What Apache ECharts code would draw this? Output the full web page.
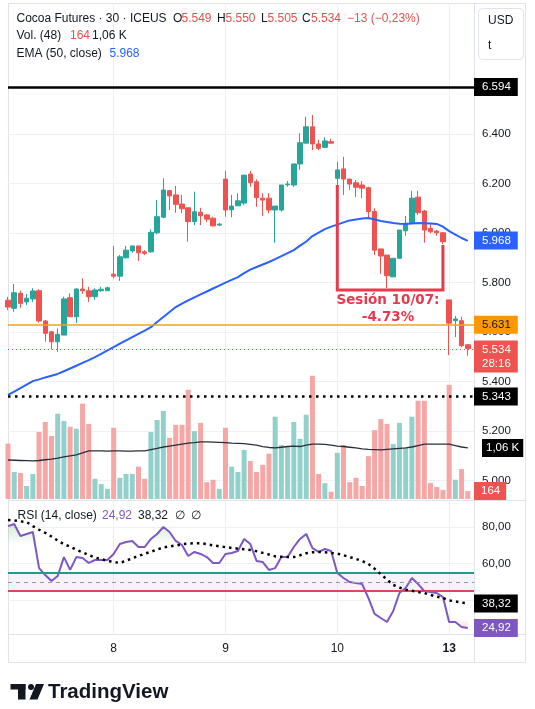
<!DOCTYPE html>
<html>
<head>
<meta charset="utf-8">
<script src="https://cdn.jsdelivr.net/npm/echarts@6/dist/echarts.min.js"></script>
<style>
  html, body { margin: 0; padding: 0; background: #fff; }
  #chart { width: 535px; height: 709px; }
</style>
</head>
<body>
<div id="chart"></div>
<script>
// Cocoa Futures, 30 min bars (index 0 = bar cut by the left edge)
const opens = [5.729,5.696,5.757,5.722,5.734,5.767,5.645,5.601,5.561,5.588,
  5.739,5.662,5.774,5.767,5.743,5.767,5.767,5.834,5.826,5.900,
  5.928,5.948,5.924,5.924,6.001,6.064,6.171,6.154,6.117,6.102,
  6.046,6.084,6.073,6.060,6.032,6.218,6.094,6.110,6.121,6.238,
  6.207,6.141,6.141,6.093,6.093,6.195,6.194,6.279,6.363,6.429,
  6.360,6.346,6.369,6.221,6.259,6.218,6.203,6.194,6.183,6.087,
  5.936,5.911,5.823,5.898,6.009,6.040,6.145,6.089,6.019,6.008,
  6.001,5.730,5.646,5.646,5.549]
const highs = [5.742,5.794,5.767,5.754,5.777,5.773,5.649,5.605,5.615,5.743,
  5.757,5.777,5.817,5.783,5.777,5.783,5.784,5.948,5.911,5.948,
  5.948,5.948,5.931,6.015,6.133,6.221,6.174,6.190,6.154,6.102,
  6.167,6.102,6.077,6.066,6.041,6.251,6.154,6.161,6.234,6.251,
  6.217,6.161,6.161,6.109,6.194,6.210,6.279,6.403,6.470,6.477,
  6.376,6.387,6.381,6.288,6.308,6.218,6.214,6.210,6.187,6.100,
  5.936,5.911,5.898,6.012,6.069,6.171,6.171,6.093,6.037,6.012,
  6.004,5.730,5.665,5.662,5.550]
const lows = [5.689,5.682,5.698,5.710,5.722,5.638,5.561,5.531,5.521,5.588,
  5.660,5.636,5.754,5.722,5.730,5.763,5.767,5.817,5.807,5.898,
  5.920,5.887,5.911,5.920,5.995,6.060,6.093,6.082,6.080,5.965,
  6.032,6.032,6.044,6.026,6.028,6.066,6.064,6.110,6.113,6.187,
  6.106,6.070,6.080,5.961,6.087,6.187,6.186,6.255,6.363,6.335,
  6.335,6.346,6.363,6.194,6.154,6.174,6.145,6.141,6.056,5.911,
  5.835,5.777,5.823,5.895,5.989,6.036,6.073,5.961,5.999,5.989,
  5.956,5.507,5.580,5.539,5.505]
const closes = [5.701,5.759,5.716,5.737,5.766,5.645,5.595,5.561,5.591,5.734,
  5.662,5.774,5.767,5.743,5.770,5.773,5.779,5.826,5.904,5.931,
  5.948,5.920,5.918,6.003,6.066,6.174,6.150,6.116,6.098,6.046,
  6.086,6.070,6.056,6.029,6.036,6.093,6.109,6.130,6.234,6.203,
  6.143,6.133,6.093,6.109,6.194,6.198,6.279,6.365,6.429,6.360,
  6.342,6.372,6.363,6.255,6.218,6.198,6.185,6.181,6.087,5.931,
  5.907,5.828,5.898,6.012,6.040,6.141,6.082,6.012,6.005,6.001,
  5.965,5.636,5.653,5.545,5.534]
const volumes = [1150,560,540,270,520,1390,1600,1310,1770,1620,
  1500,1460,1980,1560,420,310,210,1480,440,520,
  520,670,420,1390,1640,1830,1270,1540,1540,2270,
  1410,1580,350,400,210,1480,670,560,1020,790,
  560,710,940,1710,1120,1080,1600,1250,1750,2560,
  520,330,150,960,1120,350,440,270,890,1430,
  1660,1560,1140,1580,1060,1710,2040,2040,330,250,
  190,2370,400,620,164]
const volMA = [810,805,800,795,790,800,815,830,850,875,
  895,915,960,1000,1000,1000,995,1000,1000,995,
  995,1000,1000,1025,1050,1080,1100,1120,1140,1160,
  1170,1185,1185,1180,1175,1170,1160,1155,1150,1135,
  1120,1090,1070,1060,1075,1090,1100,1090,1120,1140,
  1140,1135,1120,1100,1090,1075,1060,1040,1030,1025,
  1020,1030,1040,1050,1060,1080,1110,1140,1140,1140,
  1140,1140,1110,1080,1060]
const ema50 = [5.346,5.360,5.374,5.388,5.402,5.409,5.417,5.424,5.431,5.442,
  5.453,5.464,5.476,5.487,5.499,5.512,5.526,5.539,5.553,5.567,
  5.580,5.593,5.606,5.620,5.641,5.661,5.681,5.701,5.715,5.728,
  5.740,5.752,5.764,5.776,5.788,5.800,5.811,5.822,5.838,5.852,
  5.863,5.873,5.883,5.895,5.907,5.919,5.931,5.949,5.966,5.988,
  6.002,6.016,6.026,6.034,6.043,6.051,6.055,6.059,6.061,6.055,
  6.049,6.045,6.041,6.038,6.037,6.039,6.041,6.040,6.039,6.037,
  6.026,6.008,5.994,5.980,5.968]
const rsi = [80.5,81.6,75.1,76.2,77.3,57.6,53.8,50.6,53.3,63.6,
  56.6,63.6,63.1,60.4,62.0,62.0,62.0,65.3,70.7,71.8,
  72.4,69.1,69.1,73.5,76.2,80.0,77.3,72.4,70.2,64.2,
  66.4,65.3,63.6,60.4,60.4,65.3,65.8,66.9,73.5,70.7,
  61.5,60.9,56.6,57.6,63.6,63.6,69.1,73.5,76.2,68.5,
  66.4,68.0,66.9,54.9,52.2,50.0,49.4,48.9,41.3,32.6,
  30.4,28.2,34.2,44.0,46.7,52.2,48.9,45.1,44.6,44.0,
  41.8,28.2,28.2,25.5,24.92]
const rsiMA = [83.8,83.6,83.1,82.7,80.5,78.5,76.8,74.8,72.6,70.6,
  69.3,67.6,66.2,64.7,63.4,62.5,61.5,61.0,60.4,61.6,
  63.0,64.2,65.4,66.5,67.7,68.9,69.4,69.9,70.6,71.0,
  71.2,71.2,70.7,70.0,69.5,69.0,68.6,68.2,67.9,67.5,
  66.8,65.9,65.0,64.0,63.8,63.6,63.6,64.6,65.7,66.2,
  66.4,66.2,65.9,65.5,64.6,63.6,62.6,61.5,59.8,57.2,
  54.3,51.3,48.4,47.0,45.8,45.2,44.6,44.0,43.0,42.0,
  41.3,40.0,39.4,38.8,38.32]

// first bar of each session and its label on the time axis
const dayStart = [17, 35, 53, 71]
const dayLabel = ['8', '9', '10', '13']
const priceTicks = [5.0, 5.2, 5.4, 5.6, 5.8, 6.0, 6.2, 6.4]
const rsiTicks = [40, 60, 80]
// horizontal levels drawn on the price pane
const levelHigh = 6.594
const levelPrev = 5.631
const levelLast = 5.534
const levelLow = 5.343
// bracket round the 10/07 session: [bar, price]
const session = [[53, 6.194], [53, 5.770], [70, 5.770], [70, 5.952]]

const bars = []
for (let i = 0; i <= 75; i++) bars.push(String(i))

const FONT = '"Liberation Sans", Arial, sans-serif'
const UP = '#26a69a', DOWN = '#ef5350'
const GRID = '#eef0f3', BORDER = '#e0e3eb', TEXT = '#131722'
const RED_TXT = '#e05252'
const NO_LINE = { color: 'rgba(0,0,0,0)', width: 0 }

const candles = opens.map((o, i) => [o, closes[i], lows[i], highs[i]])
const volBars = volumes.map((v, i) => ({
  value: v,
  itemStyle: { color: closes[i] >= opens[i] ? '#92d1cb' : '#f5a6a5' }
}))

// price-scale tag on the right
const tag = (text, bg, fg) => ({
  show: true, position: 'end', distance: 0, formatter: text,
  color: fg || '#fff', backgroundColor: bg, padding: [3, 7, 2, 8],
  fontSize: 11.5, fontFamily: FONT, lineHeight: 13
})

const txt = (x, y, text, color, font, align) => ({
  type: 'text', x: x, y: y, silent: true, z: 100,
  style: {
    text: text, fill: color || TEXT, font: font || ('12px ' + FONT),
    align: align || 'left', verticalAlign: 'middle'
  }
})
const hline = (x1, x2, y) => ({ type: 'line', silent: true, z: 0,
  shape: { x1: x1, y1: y, x2: x2, y2: y }, style: { stroke: BORDER, lineWidth: 1 } })
const vline = (x, y1, y2) => ({ type: 'line', silent: true, z: 0,
  shape: { x1: x, y1: y1, x2: x, y2: y2 }, style: { stroke: BORDER, lineWidth: 1 } })

const chart = echarts.init(document.getElementById('chart'), null, { renderer: 'canvas' })

const dayTest = (i) => dayStart.indexOf(i) >= 0

const option = {
  animation: false,
  backgroundColor: '#fff',
  grid: [
    { left: 8, top: 3, width: 466, height: 496 },
    { left: 8, top: 369, width: 466, height: 130 },
    { left: 8, top: 501, width: 466, height: 133 }
  ],
  xAxis: [
    { gridIndex: 0, type: 'category', data: bars, boundaryGap: false,
      axisLine: { show: false }, axisTick: { show: false }, axisLabel: { show: false },
      splitLine: { show: true, interval: dayTest, lineStyle: { color: GRID, width: 1 } } },
    { gridIndex: 1, type: 'category', data: bars, boundaryGap: false, show: false },
    { gridIndex: 2, type: 'category', data: bars, boundaryGap: false,
      axisLine: { show: false }, axisTick: { show: false },
      axisLabel: {
        interval: dayTest, margin: 9, color: TEXT, fontSize: 12, fontFamily: FONT,
        formatter: (v, i) => {
          const k = dayStart.indexOf(i)
          if (k < 0) return ''
          return k === dayStart.length - 1 ? '{b|' + dayLabel[k] + '}' : dayLabel[k]
        },
        rich: { b: { fontWeight: 'bold', fontSize: 12, fontFamily: FONT, color: TEXT } }
      },
      splitLine: { show: true, interval: dayTest, lineStyle: { color: GRID, width: 1 } } }
  ],
  yAxis: [
    { gridIndex: 0, type: 'value', position: 'right', min: 4.926, max: 6.929,
      axisLine: { show: false },
      axisTick: { show: false, customValues: priceTicks },
      splitLine: { show: true, lineStyle: { color: GRID, width: 1 } },
      axisLabel: { customValues: priceTicks, formatter: (v) => v.toFixed(3), margin: 8,
        color: TEXT, fontSize: 11.5, fontFamily: FONT } },
    { gridIndex: 1, type: 'value', min: 0, max: 2700, show: false, splitLine: { show: false } },
    { gridIndex: 2, type: 'value', position: 'right', min: 21.66, max: 94.18,
      axisLine: { show: false },
      axisTick: { show: false, customValues: rsiTicks },
      splitLine: { show: true, lineStyle: { color: GRID, width: 1 } },
      axisLabel: { customValues: [60, 80], formatter: (v) => v.toFixed(2).replace('.', ','),
        margin: 8, color: TEXT, fontSize: 11.5, fontFamily: FONT } }
  ],
  series: [
    { name: 'Vol', type: 'bar', xAxisIndex: 1, yAxisIndex: 1, data: volBars,
      barWidth: 5, z: 1, silent: true },
    { name: 'Vol MA', type: 'line', xAxisIndex: 1, yAxisIndex: 1, data: volMA,
      symbol: 'none', z: 2, silent: true, clip: false,
      lineStyle: { color: '#2a2e39', width: 1.3 },
      markLine: { silent: true, symbol: 'none', data: [
        { yAxis: 1060, lineStyle: NO_LINE,
          label: Object.assign(tag('1,06 K', '#000'), { distance: 8, padding: [3, 4, 2, 4] }) },
        { yAxis: 164, lineStyle: NO_LINE,
          label: Object.assign(tag('164', '#ef5350'), { padding: [3, 6, 2, 7] }) }
      ] } },
    { name: 'Cocoa', type: 'candlestick', xAxisIndex: 0, yAxisIndex: 0, data: candles,
      barWidth: 5, z: 3, silent: true,
      itemStyle: { color: UP, color0: DOWN, borderColor: UP, borderColor0: DOWN, borderWidth: 1 } },
    { name: 'EMA 50', type: 'line', xAxisIndex: 0, yAxisIndex: 0, data: ema50,
      symbol: 'none', z: 4, silent: true, clip: false,
      lineStyle: { color: '#2962ff', width: 2 },
      markLine: { silent: true, symbol: 'none', data: [
        { yAxis: levelHigh, lineStyle: { color: '#000', width: 2.5, type: 'solid' },
          label: tag('6.594', '#000') },
        { yAxis: levelPrev, lineStyle: { color: '#f5a31a', width: 1.5, type: 'solid' },
          label: tag('5.631', '#ff9800', '#131722') },
        { yAxis: levelLast, lineStyle: { color: '#ef5350', width: 1, type: [1, 3] },
          label: Object.assign(tag('{a|5.534}\n{b|28:16}', '#ef5350'), {
            offset: [0, 7], padding: [2, 7, 2, 8],
            rich: { a: { color: '#fff', fontSize: 11.5, fontFamily: FONT, lineHeight: 14 },
                    b: { color: '#fff', fontSize: 11.5, fontFamily: FONT, lineHeight: 14 } } }) },
        { yAxis: levelLow, lineStyle: { color: '#000', width: 2.5, type: [2.5, 4.5] },
          label: tag('5.343', '#000') },
        { yAxis: 5.968, lineStyle: NO_LINE, label: tag('5.968', '#2962ff') }
      ] } },
    { name: 'Sesión', type: 'line', xAxisIndex: 0, yAxisIndex: 0, data: session,
      symbol: 'none', z: 6, silent: true, clip: false,
      lineStyle: { color: '#e8394d', width: 3, join: 'miter' } },
    { name: 'RSI OB', type: 'line', xAxisIndex: 2, yAxisIndex: 2,
      data: rsi.map(v => Math.max(v, 70)), symbol: 'none', z: 2, silent: true,
      lineStyle: { opacity: 0 },
      areaStyle: { origin: 70, color: new echarts.graphic.LinearGradient(0, 0, 0, 1, [
        { offset: 0, color: 'rgba(76,175,80,0.35)' }, { offset: 1, color: 'rgba(76,175,80,0)' }]) } },
    { name: 'RSI OS', type: 'line', xAxisIndex: 2, yAxisIndex: 2,
      data: rsi.map(v => Math.min(v, 30)), symbol: 'none', z: 2, silent: true,
      lineStyle: { opacity: 0 },
      areaStyle: { origin: 30, color: new echarts.graphic.LinearGradient(0, 0, 0, 1, [
        { offset: 0, color: 'rgba(242,54,69,0)' }, { offset: 1, color: 'rgba(242,54,69,0.25)' }]) } },
    { name: 'RSI', type: 'line', xAxisIndex: 2, yAxisIndex: 2, data: rsi,
      symbol: 'none', z: 4, silent: true, clip: false,
      lineStyle: { color: '#7e57c2', width: 2 },
      markArea: { silent: true, itemStyle: { color: 'rgba(126,87,194,0.08)' },
        data: [[{ yAxis: 45 }, { yAxis: 55 }]] },
      markLine: { silent: true, symbol: 'none', data: [
        { yAxis: 55, lineStyle: { color: '#1f9c8c', width: 2, type: 'solid' }, label: { show: false } },
        { yAxis: 50, lineStyle: { color: '#9598a1', width: 1, type: [4, 4] }, label: { show: false } },
        { yAxis: 45, lineStyle: { color: '#e0455a', width: 2, type: 'solid' }, label: { show: false } },
        { yAxis: 24.92, lineStyle: NO_LINE, label: tag('24,92', '#7e57c2') }
      ] } },
    { name: 'RSI MA', type: 'line', xAxisIndex: 2, yAxisIndex: 2, data: rsiMA,
      symbol: 'none', z: 5, silent: true, clip: false,
      lineStyle: { color: '#000', width: 2.5, type: [2.5, 4] },
      markLine: { silent: true, symbol: 'none', data: [
        { yAxis: 38.32, lineStyle: NO_LINE, label: tag('38,32', '#000') }
      ] } }
  ],
  graphic: [
    // pane borders
    hline(8, 526, 3.5), hline(8, 526, 500.5), hline(8, 526, 634.5), hline(8, 526, 662.5),
    vline(8.5, 3, 662), vline(474.5, 3, 662), vline(525.5, 3, 662),
    // currency box
    { type: 'rect', silent: true, z: 50, shape: { x: 478.5, y: 8.5, width: 45, height: 51, r: 4 },
      style: { fill: '#fff', stroke: BORDER, lineWidth: 1 } },
    txt(488, 21, 'USD'), txt(488, 46, 't'),
    // legend
    txt(16.5, 18.5, 'Cocoa Futures · 30 · ICEUS'),
    txt(173, 18.5, 'O'), txt(181.5, 18.5, '5.549', RED_TXT),
    txt(217, 18.5, 'H'), txt(225.5, 18.5, '5.550', RED_TXT),
    txt(261, 18.5, 'L'), txt(267.5, 18.5, '5.505', RED_TXT),
    txt(302, 18.5, 'C'), txt(311, 18.5, '5.534', RED_TXT),
    txt(347, 18.5, '−13 (−0,23%)', RED_TXT),
    txt(16.5, 36, 'Vol. (48)'), txt(70, 36, '164', RED_TXT), txt(92, 36, '1,06 K'),
    txt(16.5, 53.5, 'EMA (50, close)'), txt(109.5, 53.5, '5.968', '#2962ff'),
    txt(17.5, 515.5, 'RSI (14, close)'), txt(102, 515.5, '24,92', '#7e57c2'),
    txt(138, 515.5, '38,32'), txt(175, 515.5, '∅'), txt(191, 515.5, '∅'),
    // annotation
    txt(388, 300, 'Sesión 10/07:', '#e8394d', 'bold 13.5px "DejaVu Sans", sans-serif', 'center'),
    txt(388, 317, '-4.73%', '#e8394d', 'bold 13.5px "DejaVu Sans", sans-serif', 'center'),
    // TradingView mark
    { type: 'rect', silent: true, shape: { x: 10.5, y: 684, width: 15, height: 5.5 }, style: { fill: '#131722' } },
    { type: 'rect', silent: true, shape: { x: 18, y: 684, width: 7.5, height: 15.5 }, style: { fill: '#131722' } },
    { type: 'circle', silent: true, shape: { cx: 31, cy: 687, r: 3 }, style: { fill: '#131722' } },
    { type: 'polygon', silent: true, shape: { points: [[36, 684], [44, 684], [37.5, 699.5], [29.5, 699.5]] },
      style: { fill: '#131722' } },
    txt(48, 692, 'TradingView', '#131722', 'bold 20.5px "Liberation Sans", Arial, sans-serif')
  ]
}

chart.setOption(option)
</script>
</body>
</html>
